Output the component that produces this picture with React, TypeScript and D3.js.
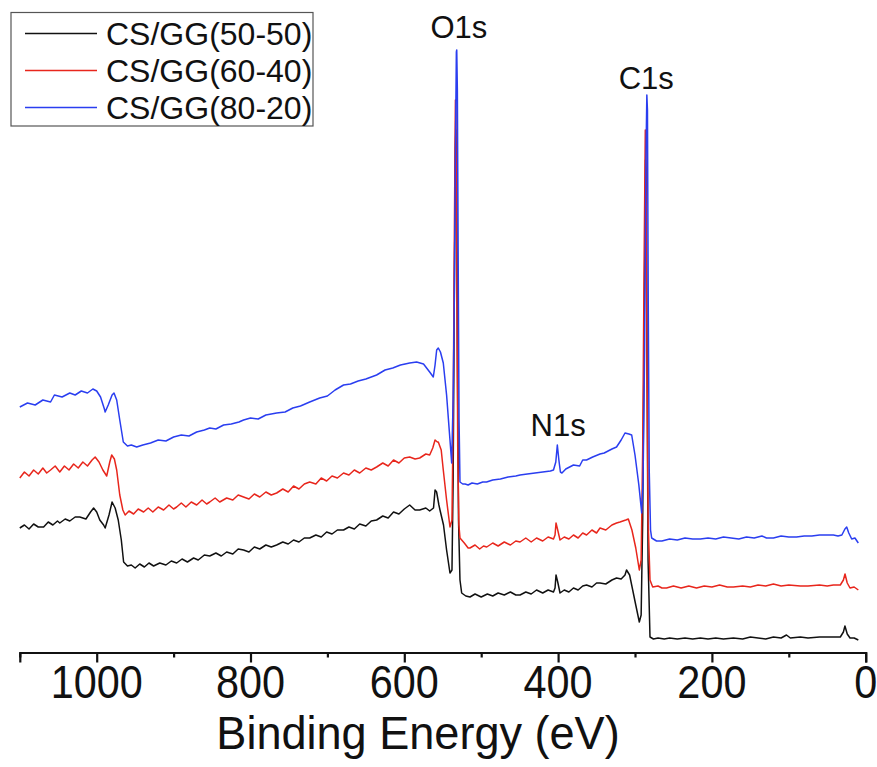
import React, { useEffect, useRef } from "react";
import * as d3 from "d3";

// Binding energy (eV) / intensity (a.u.)
const series5050: [number, number][] = [
  [1100,125],[1094,128],[1088,124],[1082,129],[1076,126],[1069,126],[1063,131],[1057,128],[1051,132],[1048,130],
  [1041,134],[1035,132],[1028,136],[1022,136],[1014,134],[1008,141],[1004,145],[1000,141],[996,133],[991,128],
  [989,125],[984,138],[980,151],[976,145],[972,133],[968,113],[965,91],[960,87],[955,88],[950,85],
  [944,89],[938,86],[932,90],[926,87],[918,90],[910,88],[903,92],[896,90],[889,94],[882,91],
  [874,95],[868,93],[860,98],[853,97],[845,100],[838,97],[831,101],[823,99],[816,104],[809,103],
  [802,101],[795,106],[788,104],[780,108],[773,106],[766,108],[758,111],[751,109],[744,113],[737,111],
  [730,115],[723,115],[715,118],[708,116],[701,121],[694,119],[687,123],[679,123],[672,126],[665,124],
  [658,129],[650,127],[643,132],[636,133],[628,137],[621,135],[614,141],[607,139],[600,144],[593,148],
  [586,143],[580,143],[572,145],[567,142],[562,145],[560,163],[558,161],[555,148],[553.6,143],[549,128],
  [545,103],[540.6,80],[538,83],[536.5,173],[535,353],[533.5,503],[533,523],[532,493],[531,303],[529.5,133],
  [527.6,73],[525.4,60],[520,57],[514.6,56],[508,59],[500,56],[492,59],[485,57],[478,60],[470,58],
  [462,61],[455,58],[449.5,58],[442,61],[435,59],[428,63],[420,60],[413,63],[406,61],[404,65],
  [402.7,78],[400.5,71],[397.5,60],[392,63],[386,61],[380,65],[374,63],[368,67],[363,68],[356,66],
  [350,70],[345.5,70],[338,69],[330,73],[324,75],[318,74],[313,78],[311,83],[307,78],[303,63],
  [299,48],[294.4,31],[292,38],[290,133],[288,333],[286.3,493],[285.5,483],[284.2,273],[283,93],[280.5,16],
  [276,14],[270,15],[262,14],[255,15],[245,14],[235,15],[225,14],[215,15],[205,14],[195,15],
  [185,14],[172,15],[160,14],[150,16],[140,15],[130,14],[120,16],[110,15],[103,18],[98,15],
  [85,16],[75,15],[60,16],[50,16],[42,16],[33,16],[29,21],[27,27],[24,19],[20.4,15],[15,15],[9.6,13],
];

const series6040: [number, number][] = [
  [1100,175],[1094,181],[1088,177],[1082,183],[1076,179],[1070,185],[1065,180],[1060,183],[1054,187],[1048,181],
  [1042,187],[1036,183],[1030,189],[1024,185],[1018,191],[1012,187],[1006,193],[1002,196],[997,191],[992,183],
  [987,177],[983,191],[980.5,198],[977,194],[974,183],[970,158],[966,143],[963,138],[958,142],[952,139],
  [946,144],[939,141],[933,145],[927,141],[920,146],[913,143],[906,148],[900,144],[896,146],[890,150],
  [884,146],[877,151],[870,148],[863,153],[857,149],[853,151],[846,155],[840,151],[831,155],[823,153],
  [816,158],[809,156],[802,154],[795,159],[788,156],[780,161],[773,158],[766,160],[758,164],[751,161],
  [744,167],[737,164],[730,169],[723,171],[715,169],[708,175],[701,172],[694,177],[687,175],[679,180],
  [672,178],[665,183],[658,180],[650,185],[643,183],[636,186],[628,190],[621,187],[614,193],[607,190],
  [600,195],[593,196],[586,194],[580,195],[572,199],[567,198],[563,205],[560,213],[557,211],[555.8,211],
  [552,203],[549.3,183],[545,153],[540.6,126],[538,133],[536.5,233],[535,403],[534,513],[533.5,553],[532.8,538],
  [531.8,403],[530.5,203],[529,128],[527.6,115],[522,110],[517,105],[514.6,105],[508,108],[502,104],[497,107],
  [492.8,106],[485,110],[478,107],[470,111],[462,108],[455,112],[449.5,111],[442,115],[435,111],[428,115],
  [420,112],[413,116],[406,114],[404,118],[402.7,130],[400.5,123],[397.5,113],[392,116],[386,114],[380,118],
  [374,115],[368,120],[363,118],[356,123],[350,120],[345.5,125],[338,123],[330,128],[324,130],[319.5,131],
  [312,133],[308.7,134],[304,123],[299,105],[294.4,83],[292,93],[290,203],[288,403],[286.6,523],[285.8,513],
  [284.6,323],[283,133],[280.5,73],[277,66],[270,67],[265,65],[259,65],[250,67],[240,65],[230,67],
  [220,65],[210,67],[200,66],[190,68],[180,66],[172,66],[160,67],[150,66],[140,68],[130,67],
  [120,69],[110,67],[100,68],[85,67],[75,67],[60,68],[50,67],[42,68],[33,68],[29,73],
  [26.9,79],[24,70],[20.4,65],[15,66],[9.6,63],
];

const series8020: [number, number][] = [
  [1100,246],[1090,250],[1080,248],[1070,253],[1060,251],[1055,258],[1045,256],[1035,260],[1028,258],[1020,262],
  [1012,260],[1005,264],[1000,262],[995,256],[990,244],[989,241],[985,248],[980,258],[977.5,260],[974,253],
  [970,233],[965.4,211],[960,207],[955,208],[948,206],[940,208],[930,210],[920,213],[910,212],[900,216],
  [890,218],[880,217],[870,221],[860,223],[853,225],[845,224],[835,228],[825,229],[815,231],[809,233],
  [800,235],[790,234],[780,238],[766,240],[755,241],[745,245],[735,247],[723,251],[710,255],[700,257],
  [690,263],[679,268],[670,269],[660,272],[650,274],[636,278],[625,283],[615,285],[605,288],[593,290],
  [584,291],[575,289],[567,281],[562.3,276],[560,288],[557.9,303],[555.8,305],[553,301],[549.3,290],[545,258],
  [540.6,213],[538.4,190],[536.5,253],[535,353],[533.5,503],[532.3,601],[531.8,603],[531,563],[530,403],[528.8,233],
  [527.6,171],[524,169],[521,169],[517,168],[512,170],[505,169],[498,171],[493,171],[485,173],[475,174],
  [465,176],[455,177],[449.5,178],[440,179],[430,180],[420,181],[410,182],[406,183],[403,191],[401,208],
  [399,193],[397,181],[395,180],[390,184],[380,188],[372,187],[368,193],[363,193],[355,196],[345.5,199],
  [340,200],[330,204],[324,206],[318,213],[313,220],[308,219],[304.3,218],[300,198],[295,168],[291.3,140],
  [289.5,173],[287.5,303],[285.8,493],[284.6,558],[283.8,543],[282.8,353],[281.5,183],[279.8,123],[278.3,115],[272,112],
  [265,112],[255,114],[245,113],[235,115],[225,114],[215,114],[205,115],[195,114],[185,116],[175,115],
  [165,114],[155,116],[145,115],[135,117],[129,115],[120,115],[110,117],[100,116],[90,116],[80,117],
  [70,117],[60,118],[50,118],[42,118],[36,117],[31,118],[27,124],[24.7,126],[22,120],[18.2,114],[14,115],[9.6,110],
];

const seriesNames = ["CS/GG(50-50)", "CS/GG(60-40)", "CS/GG(80-20)"];
const seriesColors = ["#111111", "#e8261c", "#2a3ef0"];
const majorTicks = [1000, 800, 600, 400, 200, 0];
const minorTicks = [1100, 900, 700, 500, 300, 100];
const peakLabels: { text: string; energy: number; intensity: number }[] = [
  { text: "O1s", energy: 529, intensity: 615 },
  { text: "C1s", energy: 285.4, intensity: 564 },
  { text: "N1s", energy: 400, intensity: 217 },
];
const xTitle = "Binding Energy (eV)";

const W = 877;
const H = 767;
const FONT = "Arial, 'Liberation Sans', sans-serif";

export default function App() {
  const ref = useRef<SVGSVGElement | null>(null);

  useEffect(() => {
    document.body.style.margin = "0";
    const svg = d3.select(ref.current);
    svg.selectAll("*").remove();

    const x = d3.scaleLinear().domain([1100, 0]).range([19.8, 865.7]);
    const y = d3.scaleLinear().domain([0, 610]).range([653, 43]);

    const allSeries = [series5050, series6040, series8020];
    const line = d3
      .line<[number, number]>()
      .x((d) => x(d[0]))
      .y((d) => y(d[1]))
      .curve(d3.curveLinear);

    allSeries.forEach((s, i) => {
      svg
        .append("path")
        .datum(s)
        .attr("d", line)
        .attr("fill", "none")
        .attr("stroke", seriesColors[i])
        .attr("stroke-width", 1.5)
        .attr("stroke-linejoin", "round");
    });

    // axis
    const axisY = 652.5;
    const gAxis = svg.append("g").attr("transform", `translate(0,${axisY})`);
    gAxis
      .call(
        d3.axisBottom(x).tickValues(majorTicks).tickSize(10).tickFormat(() => "")
      )
      .call((g) => g.select(".domain").attr("stroke", "#111").attr("stroke-width", 2.2))
      .call((g) => g.selectAll(".tick line").attr("stroke", "#111").attr("stroke-width", 2.2));
    const gMinor = svg.append("g").attr("transform", `translate(0,${axisY})`);
    gMinor
      .call(d3.axisBottom(x).tickValues(minorTicks).tickSize(5).tickFormat(() => ""))
      .call((g) => g.select(".domain").remove())
      .call((g) => g.selectAll(".tick line").attr("stroke", "#111").attr("stroke-width", 2.2));

    // tick labels
    majorTicks.forEach((t) => {
      svg
        .append("text")
        .attr("transform", `translate(${x(t)},${698}) scale(0.9,1)`)
        .attr("text-anchor", "middle")
        .attr("font-family", FONT)
        .attr("font-size", 46)
        .attr("fill", "#111")
        .text(String(t));
    });

    svg
      .append("text")
      .attr("transform", `translate(${418},${749}) scale(0.98,1)`)
      .attr("text-anchor", "middle")
      .attr("font-family", FONT)
      .attr("font-size", 46)
      .attr("fill", "#111")
      .text(xTitle);

    peakLabels.forEach((p) => {
      svg
        .append("text")
        .attr("x", x(p.energy))
        .attr("y", y(p.intensity))
        .attr("text-anchor", "middle")
        .attr("font-family", FONT)
        .attr("font-size", 31)
        .attr("fill", "#111")
        .text(p.text);
    });

    // legend
    const lg = svg.append("g");
    lg.append("rect")
      .attr("x", 11)
      .attr("y", 12.5)
      .attr("width", 302)
      .attr("height", 113.5)
      .attr("fill", "white")
      .attr("stroke", "#555")
      .attr("stroke-width", 1.2);
    seriesNames.forEach((n, i) => {
      const ly = 33.5 + i * 37;
      lg.append("line")
        .attr("x1", 25)
        .attr("x2", 97)
        .attr("y1", ly)
        .attr("y2", ly)
        .attr("stroke", seriesColors[i])
        .attr("stroke-width", 1.6);
      lg.append("text")
        .attr("x", 106)
        .attr("y", ly + 11.5)
        .attr("font-family", FONT)
        .attr("font-size", 32)
        .attr("fill", "#111")
        .text(n);
    });
  }, []);

  return (
    <svg
      ref={ref}
      width={W}
      height={H}
      style={{ display: "block", background: "white" }}
    />
  );
}
